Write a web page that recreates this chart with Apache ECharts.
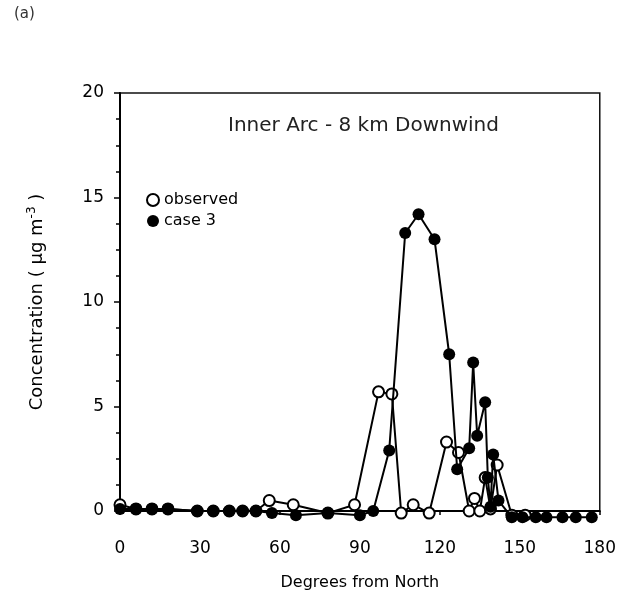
<!DOCTYPE html>
<html>
<head>
<meta charset="utf-8">
<script src="https://cdn.jsdelivr.net/npm/echarts@6/dist/echarts.min.js"></script>
<style>html,body{margin:0;padding:0;background:#fff;}#c{width:619px;height:601px;}</style>
</head>
<body>
<div id="c"></div>
<script>
// Observed (open circles)
var obsDeg = [0, 6, 12, 18, 29, 35, 41, 46, 51, 56, 65, 78, 88, 97, 102, 105.5, 110, 116, 122.5, 127, 131, 133, 135, 137, 139, 141.5, 147, 152];
var obsVal = [0.3, 0.1, 0.1, 0.1, 0, 0, 0, 0, 0, 0.5, 0.3, -0.1, 0.3, 5.7, 5.6, -0.1, 0.3, -0.1, 3.3, 2.8, 0, 0.6, 0, 1.6, 0.1, 2.2, -0.2, -0.2];
// Case 3 (filled circles)
var caseDeg = [0, 6, 12, 18, 29, 35, 41, 46, 51, 57, 66, 78, 90, 95, 101, 107, 112, 118, 123.5, 126.5, 131, 132.5, 134, 137, 138, 139, 140, 142, 147, 151, 156, 160, 166, 171, 177];
var caseVal = [0.1, 0.1, 0.1, 0.1, 0, 0, 0, 0, 0, -0.1, -0.2, -0.1, -0.2, 0, 2.9, 13.3, 14.2, 13.0, 7.5, 2.0, 3.0, 7.1, 3.6, 5.2, 1.6, 0.2, 2.7, 0.5, -0.3, -0.3, -0.3, -0.3, -0.3, -0.3, -0.3];
var xTicks = [0, 30, 60, 90, 120, 150, 180];
var yTicks = [0, 5, 10, 15, 20];

function pairs(a, b) { return a.map(function (v, i) { return [v, b[i]]; }); }

var chart = echarts.init(document.getElementById('c'), null, {renderer: 'canvas'});
var font = 'DejaVu Sans, Liberation Sans, sans-serif';
chart.setOption({
  animation: false,
  backgroundColor: '#fff',
  textStyle: {fontFamily: font},
  graphic: [
    {type: 'text', left: 14, top: 7,
     style: {text: '(a)', fontSize: 15, fill: '#333', fontFamily: font}},
    {type: 'text', left: 228, top: 116,
     style: {text: 'Inner Arc - 8 km Downwind', fontSize: 20, fill: '#222', fontFamily: font}}
  ],
  legend: {
    orient: 'vertical', left: 141, top: 187, itemGap: 5,
    itemWidth: 12, itemHeight: 12,
    textStyle: {fontSize: 16, color: '#000', fontFamily: font},
    data: [
      {name: 'observed', icon: 'circle', itemStyle: {color: '#fff', borderColor: '#000', borderWidth: 2}},
      {name: 'case 3', icon: 'circle', itemStyle: {color: '#000'}}
    ]
  },
  grid: {left: 120, right: 19, top: 93, bottom: 90, show: true, borderColor: '#111', borderWidth: 1.5, backgroundColor: 'transparent'},
  xAxis: {
    type: 'value', min: 0, max: 180, interval: 30,
    name: 'Degrees from North', nameLocation: 'middle', nameGap: 64,
    nameTextStyle: {fontSize: 16, color: '#000', fontFamily: font},
    axisLine: {lineStyle: {color: '#000', width: 2}},
    axisTick: {show: true, length: 4, lineStyle: {color: '#000', width: 1.5}},
    axisLabel: {fontSize: 17, color: '#000', margin: 29, fontFamily: font,
      formatter: function (v) { return xTicks.indexOf(v) >= 0 ? String(v) : ''; }},
    splitLine: {show: false}
  },
  yAxis: {
    type: 'value', min: 0, max: 20, interval: 5,
    name: 'Concentration ( µg m{sup|-3} )', nameLocation: 'middle', nameGap: 72, nameRotate: 90,
    nameTextStyle: {fontSize: 18, color: '#000', fontFamily: font,
      rich: {sup: {fontSize: 12, verticalAlign: 'top', padding: [0, 0, 10, 0], color: '#000', fontFamily: font}}},
    axisLine: {show: true, lineStyle: {color: '#000', width: 2}},
    axisTick: {show: true, length: 6, lineStyle: {color: '#000', width: 1.5}},
    minorTick: {show: true, splitNumber: 4, length: 4, lineStyle: {color: '#000', width: 1.5}},
    axisLabel: {fontSize: 17, color: '#000', margin: 16, fontFamily: font,
      formatter: function (v) { return yTicks.indexOf(v) >= 0 ? String(v) : ''; }},
    splitLine: {show: false}
  },
  series: [
    {
      name: 'observed', type: 'line', data: pairs(obsDeg, obsVal),
      symbol: 'circle', symbolSize: 11, clip: false, z: 2,
      lineStyle: {color: '#000', width: 2},
      itemStyle: {color: '#fff', borderColor: '#000', borderWidth: 2}
    },
    {
      name: 'case 3', type: 'line', data: pairs(caseDeg, caseVal),
      symbol: 'circle', symbolSize: 12, clip: false, z: 3,
      lineStyle: {color: '#000', width: 2},
      itemStyle: {color: '#000'}
    }
  ]
});
</script>
</body>
</html>
